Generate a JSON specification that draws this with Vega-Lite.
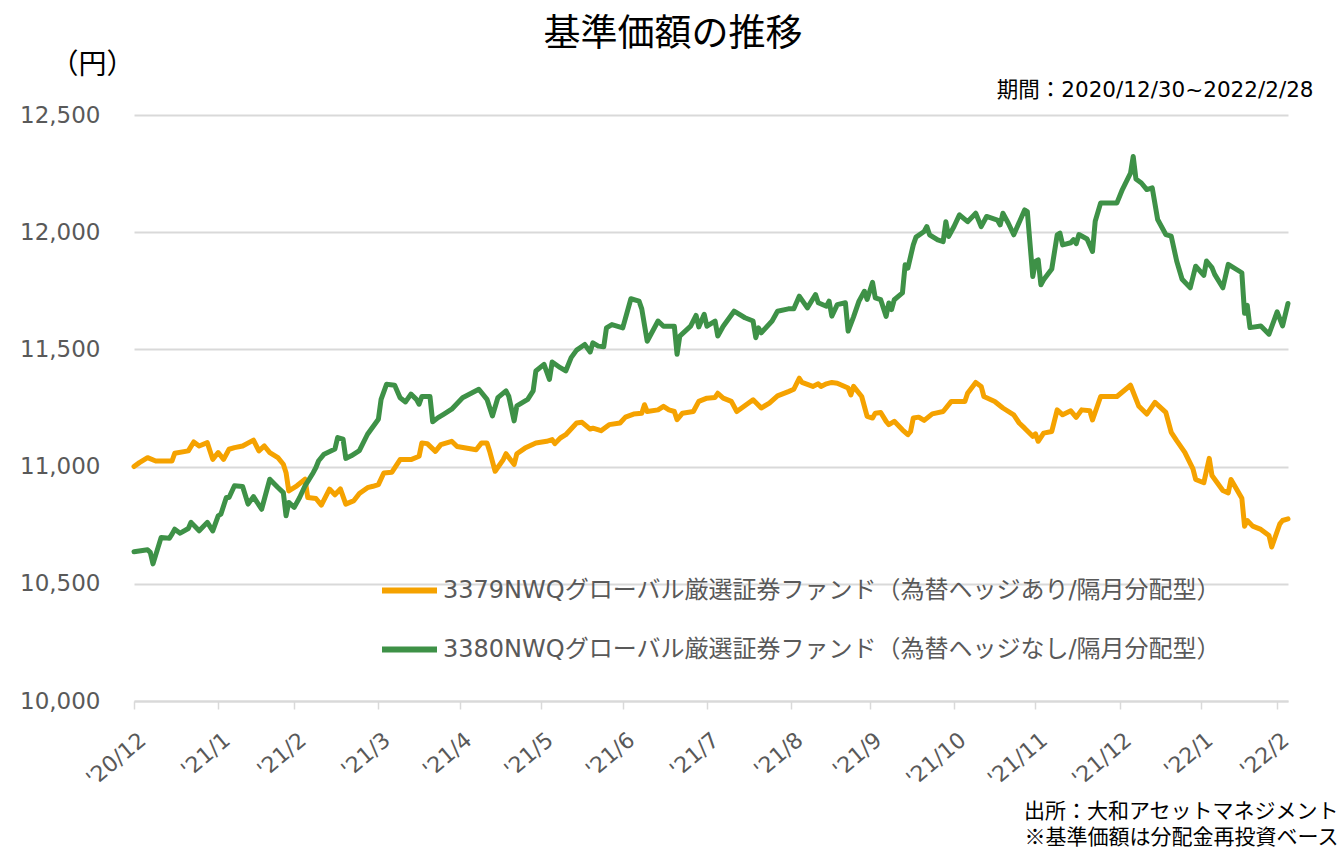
{
  "$schema": "https://vega.github.io/schema/vega-lite/v6.json",
  "autosize": {"type": "none"},
  "padding": {"left": 134, "top": 115, "right": 53, "bottom": 147},
  "width": 1154,
  "height": 586,
  "background": "white",
  "title": {"text": "基準価額の推移", "font": "Noto Sans CJK JP", "fontSize": 37, "fontWeight": "normal", "color": "#000000", "anchor": "middle", "frame": "group", "dx": -38, "dy": 13, "offset": 10},
  "datasets": {
    "hedged": [
      {"date": "2020-12-30", "nav": 11000}, {"date": "2021-01-01", "nav": 11017}, {"date": "2021-01-04", "nav": 11038}, {"date": "2021-01-07", "nav": 11024},
      {"date": "2021-01-13", "nav": 11024}, {"date": "2021-01-14", "nav": 11057}, {"date": "2021-01-19", "nav": 11067}, {"date": "2021-01-21", "nav": 11105},
      {"date": "2021-01-23", "nav": 11088}, {"date": "2021-01-26", "nav": 11102}, {"date": "2021-01-28", "nav": 11031}, {"date": "2021-01-30", "nav": 11060},
      {"date": "2021-02-01", "nav": 11031}, {"date": "2021-02-03", "nav": 11074}, {"date": "2021-02-05", "nav": 11081}, {"date": "2021-02-08", "nav": 11088},
      {"date": "2021-02-12", "nav": 11113}, {"date": "2021-02-14", "nav": 11067}, {"date": "2021-02-16", "nav": 11088}, {"date": "2021-02-18", "nav": 11060},
      {"date": "2021-02-21", "nav": 11038}, {"date": "2021-02-23", "nav": 11010}, {"date": "2021-02-24", "nav": 10974}, {"date": "2021-02-25", "nav": 10896},
      {"date": "2021-02-28", "nav": 10918}, {"date": "2021-03-03", "nav": 10946}, {"date": "2021-03-04", "nav": 10868}, {"date": "2021-03-07", "nav": 10864},
      {"date": "2021-03-09", "nav": 10836}, {"date": "2021-03-12", "nav": 10904}, {"date": "2021-03-14", "nav": 10880}, {"date": "2021-03-16", "nav": 10905},
      {"date": "2021-03-18", "nav": 10840}, {"date": "2021-03-21", "nav": 10855}, {"date": "2021-03-23", "nav": 10885}, {"date": "2021-03-26", "nav": 10910},
      {"date": "2021-03-28", "nav": 10916}, {"date": "2021-03-30", "nav": 10923}, {"date": "2021-04-01", "nav": 10973}, {"date": "2021-04-04", "nav": 10976},
      {"date": "2021-04-07", "nav": 11030}, {"date": "2021-04-11", "nav": 11030}, {"date": "2021-04-14", "nav": 11044}, {"date": "2021-04-15", "nav": 11101},
      {"date": "2021-04-17", "nav": 11098}, {"date": "2021-04-20", "nav": 11065}, {"date": "2021-04-22", "nav": 11094}, {"date": "2021-04-26", "nav": 11108},
      {"date": "2021-04-28", "nav": 11086}, {"date": "2021-05-05", "nav": 11072}, {"date": "2021-05-07", "nav": 11101}, {"date": "2021-05-09", "nav": 11101},
      {"date": "2021-05-10", "nav": 11065}, {"date": "2021-05-12", "nav": 10980}, {"date": "2021-05-15", "nav": 11030}, {"date": "2021-05-16", "nav": 11055},
      {"date": "2021-05-19", "nav": 11009}, {"date": "2021-05-20", "nav": 11055}, {"date": "2021-05-23", "nav": 11079}, {"date": "2021-05-27", "nav": 11101},
      {"date": "2021-05-31", "nav": 11108}, {"date": "2021-06-02", "nav": 11115}, {"date": "2021-06-03", "nav": 11098}, {"date": "2021-06-05", "nav": 11122},
      {"date": "2021-06-07", "nav": 11136}, {"date": "2021-06-11", "nav": 11186}, {"date": "2021-06-13", "nav": 11189}, {"date": "2021-06-16", "nav": 11160},
      {"date": "2021-06-17", "nav": 11164}, {"date": "2021-06-20", "nav": 11153}, {"date": "2021-06-23", "nav": 11179}, {"date": "2021-06-27", "nav": 11186},
      {"date": "2021-06-29", "nav": 11211}, {"date": "2021-07-02", "nav": 11224}, {"date": "2021-07-05", "nav": 11228}, {"date": "2021-07-06", "nav": 11264},
      {"date": "2021-07-07", "nav": 11235}, {"date": "2021-07-11", "nav": 11242}, {"date": "2021-07-13", "nav": 11257}, {"date": "2021-07-15", "nav": 11242},
      {"date": "2021-07-17", "nav": 11235}, {"date": "2021-07-18", "nav": 11200}, {"date": "2021-07-20", "nav": 11228}, {"date": "2021-07-24", "nav": 11235},
      {"date": "2021-07-26", "nav": 11278}, {"date": "2021-07-29", "nav": 11292}, {"date": "2021-08-01", "nav": 11295}, {"date": "2021-08-02", "nav": 11313},
      {"date": "2021-08-04", "nav": 11292}, {"date": "2021-08-07", "nav": 11278}, {"date": "2021-08-09", "nav": 11235}, {"date": "2021-08-15", "nav": 11285},
      {"date": "2021-08-18", "nav": 11250}, {"date": "2021-08-21", "nav": 11271}, {"date": "2021-08-24", "nav": 11302}, {"date": "2021-08-28", "nav": 11320},
      {"date": "2021-08-30", "nav": 11330}, {"date": "2021-09-01", "nav": 11377}, {"date": "2021-09-02", "nav": 11359}, {"date": "2021-09-06", "nav": 11342},
      {"date": "2021-09-08", "nav": 11353}, {"date": "2021-09-09", "nav": 11342}, {"date": "2021-09-11", "nav": 11353}, {"date": "2021-09-13", "nav": 11359},
      {"date": "2021-09-15", "nav": 11356}, {"date": "2021-09-19", "nav": 11335}, {"date": "2021-09-20", "nav": 11306}, {"date": "2021-09-21", "nav": 11342},
      {"date": "2021-09-24", "nav": 11299}, {"date": "2021-09-26", "nav": 11214}, {"date": "2021-09-28", "nav": 11207}, {"date": "2021-09-29", "nav": 11228},
      {"date": "2021-10-01", "nav": 11231}, {"date": "2021-10-03", "nav": 11193}, {"date": "2021-10-04", "nav": 11179}, {"date": "2021-10-06", "nav": 11193},
      {"date": "2021-10-09", "nav": 11157}, {"date": "2021-10-11", "nav": 11136}, {"date": "2021-10-12", "nav": 11150}, {"date": "2021-10-13", "nav": 11207},
      {"date": "2021-10-15", "nav": 11211}, {"date": "2021-10-17", "nav": 11197}, {"date": "2021-10-20", "nav": 11225}, {"date": "2021-10-24", "nav": 11235},
      {"date": "2021-10-27", "nav": 11278}, {"date": "2021-11-01", "nav": 11278}, {"date": "2021-11-02", "nav": 11313}, {"date": "2021-11-05", "nav": 11359},
      {"date": "2021-11-07", "nav": 11342}, {"date": "2021-11-08", "nav": 11299}, {"date": "2021-11-12", "nav": 11278}, {"date": "2021-11-15", "nav": 11250},
      {"date": "2021-11-19", "nav": 11221}, {"date": "2021-11-21", "nav": 11186}, {"date": "2021-11-23", "nav": 11164}, {"date": "2021-11-26", "nav": 11129},
      {"date": "2021-11-27", "nav": 11140}, {"date": "2021-11-28", "nav": 11108}, {"date": "2021-11-30", "nav": 11143}, {"date": "2021-12-03", "nav": 11150},
      {"date": "2021-12-05", "nav": 11242}, {"date": "2021-12-07", "nav": 11221}, {"date": "2021-12-10", "nav": 11238}, {"date": "2021-12-12", "nav": 11210},
      {"date": "2021-12-14", "nav": 11242}, {"date": "2021-12-17", "nav": 11238}, {"date": "2021-12-18", "nav": 11199}, {"date": "2021-12-21", "nav": 11299},
      {"date": "2021-12-27", "nav": 11299}, {"date": "2022-01-01", "nav": 11347}, {"date": "2022-01-04", "nav": 11259}, {"date": "2022-01-07", "nav": 11224},
      {"date": "2022-01-10", "nav": 11274}, {"date": "2022-01-14", "nav": 11231}, {"date": "2022-01-16", "nav": 11146}, {"date": "2022-01-18", "nav": 11111},
      {"date": "2022-01-21", "nav": 11061}, {"date": "2022-01-24", "nav": 10990}, {"date": "2022-01-25", "nav": 10945}, {"date": "2022-01-28", "nav": 10931},
      {"date": "2022-01-30", "nav": 11035}, {"date": "2022-01-31", "nav": 10962}, {"date": "2022-02-04", "nav": 10898}, {"date": "2022-02-06", "nav": 10888},
      {"date": "2022-02-07", "nav": 10945}, {"date": "2022-02-11", "nav": 10865}, {"date": "2022-02-12", "nav": 10746}, {"date": "2022-02-13", "nav": 10770},
      {"date": "2022-02-15", "nav": 10746}, {"date": "2022-02-18", "nav": 10732}, {"date": "2022-02-21", "nav": 10706}, {"date": "2022-02-22", "nav": 10657},
      {"date": "2022-02-25", "nav": 10756}, {"date": "2022-02-26", "nav": 10770}, {"date": "2022-02-28", "nav": 10777}
    ],
    "unhedged": [
      {"date": "2020-12-30", "nav": 10637}, {"date": "2021-01-04", "nav": 10645}, {"date": "2021-01-05", "nav": 10634}, {"date": "2021-01-06", "nav": 10585},
      {"date": "2021-01-09", "nav": 10698}, {"date": "2021-01-12", "nav": 10694}, {"date": "2021-01-13", "nav": 10712}, {"date": "2021-01-14", "nav": 10733},
      {"date": "2021-01-16", "nav": 10716}, {"date": "2021-01-19", "nav": 10736}, {"date": "2021-01-20", "nav": 10762}, {"date": "2021-01-23", "nav": 10726},
      {"date": "2021-01-26", "nav": 10762}, {"date": "2021-01-28", "nav": 10726}, {"date": "2021-01-30", "nav": 10790}, {"date": "2021-01-31", "nav": 10797},
      {"date": "2021-02-02", "nav": 10868}, {"date": "2021-02-03", "nav": 10868}, {"date": "2021-02-05", "nav": 10918}, {"date": "2021-02-08", "nav": 10915},
      {"date": "2021-02-10", "nav": 10840}, {"date": "2021-02-12", "nav": 10872}, {"date": "2021-02-15", "nav": 10818}, {"date": "2021-02-18", "nav": 10946},
      {"date": "2021-02-21", "nav": 10911}, {"date": "2021-02-23", "nav": 10889}, {"date": "2021-02-24", "nav": 10790}, {"date": "2021-02-25", "nav": 10847},
      {"date": "2021-02-27", "nav": 10826}, {"date": "2021-03-01", "nav": 10868}, {"date": "2021-03-03", "nav": 10918}, {"date": "2021-03-06", "nav": 10974},
      {"date": "2021-03-07", "nav": 10996}, {"date": "2021-03-08", "nav": 11025}, {"date": "2021-03-10", "nav": 11053}, {"date": "2021-03-14", "nav": 11075},
      {"date": "2021-03-15", "nav": 11124}, {"date": "2021-03-17", "nav": 11117}, {"date": "2021-03-18", "nav": 11035}, {"date": "2021-03-20", "nav": 11046},
      {"date": "2021-03-23", "nav": 11068}, {"date": "2021-03-26", "nav": 11138}, {"date": "2021-03-30", "nav": 11202}, {"date": "2021-03-31", "nav": 11287},
      {"date": "2021-04-02", "nav": 11351}, {"date": "2021-04-05", "nav": 11347}, {"date": "2021-04-07", "nav": 11294}, {"date": "2021-04-09", "nav": 11276},
      {"date": "2021-04-11", "nav": 11309}, {"date": "2021-04-13", "nav": 11287}, {"date": "2021-04-14", "nav": 11266}, {"date": "2021-04-15", "nav": 11299},
      {"date": "2021-04-18", "nav": 11299}, {"date": "2021-04-19", "nav": 11191}, {"date": "2021-04-21", "nav": 11209}, {"date": "2021-04-23", "nav": 11223},
      {"date": "2021-04-26", "nav": 11245}, {"date": "2021-04-30", "nav": 11294}, {"date": "2021-05-06", "nav": 11330}, {"date": "2021-05-09", "nav": 11287},
      {"date": "2021-05-11", "nav": 11216}, {"date": "2021-05-13", "nav": 11294}, {"date": "2021-05-16", "nav": 11323}, {"date": "2021-05-17", "nav": 11301},
      {"date": "2021-05-19", "nav": 11195}, {"date": "2021-05-20", "nav": 11259}, {"date": "2021-05-24", "nav": 11287}, {"date": "2021-05-26", "nav": 11323},
      {"date": "2021-05-27", "nav": 11408}, {"date": "2021-05-30", "nav": 11436}, {"date": "2021-06-01", "nav": 11372}, {"date": "2021-06-02", "nav": 11446},
      {"date": "2021-06-05", "nav": 11422}, {"date": "2021-06-07", "nav": 11408}, {"date": "2021-06-09", "nav": 11465}, {"date": "2021-06-11", "nav": 11497},
      {"date": "2021-06-14", "nav": 11521}, {"date": "2021-06-16", "nav": 11489}, {"date": "2021-06-17", "nav": 11528}, {"date": "2021-06-19", "nav": 11514},
      {"date": "2021-06-21", "nav": 11511}, {"date": "2021-06-22", "nav": 11592}, {"date": "2021-06-24", "nav": 11606}, {"date": "2021-06-28", "nav": 11592},
      {"date": "2021-07-01", "nav": 11716}, {"date": "2021-07-04", "nav": 11706}, {"date": "2021-07-05", "nav": 11673}, {"date": "2021-07-07", "nav": 11535},
      {"date": "2021-07-11", "nav": 11621}, {"date": "2021-07-13", "nav": 11599}, {"date": "2021-07-17", "nav": 11599}, {"date": "2021-07-18", "nav": 11479},
      {"date": "2021-07-19", "nav": 11557}, {"date": "2021-07-23", "nav": 11599}, {"date": "2021-07-25", "nav": 11645}, {"date": "2021-07-26", "nav": 11596},
      {"date": "2021-07-28", "nav": 11650}, {"date": "2021-07-29", "nav": 11599}, {"date": "2021-08-01", "nav": 11621}, {"date": "2021-08-02", "nav": 11557},
      {"date": "2021-08-04", "nav": 11599}, {"date": "2021-08-08", "nav": 11663}, {"date": "2021-08-12", "nav": 11635}, {"date": "2021-08-15", "nav": 11621},
      {"date": "2021-08-16", "nav": 11550}, {"date": "2021-08-17", "nav": 11592}, {"date": "2021-08-18", "nav": 11571}, {"date": "2021-08-22", "nav": 11621},
      {"date": "2021-08-24", "nav": 11663}, {"date": "2021-08-28", "nav": 11673}, {"date": "2021-08-30", "nav": 11673}, {"date": "2021-09-01", "nav": 11727},
      {"date": "2021-09-04", "nav": 11677}, {"date": "2021-09-07", "nav": 11734}, {"date": "2021-09-08", "nav": 11699}, {"date": "2021-09-11", "nav": 11684},
      {"date": "2021-09-12", "nav": 11706}, {"date": "2021-09-13", "nav": 11642}, {"date": "2021-09-15", "nav": 11691}, {"date": "2021-09-18", "nav": 11699},
      {"date": "2021-09-19", "nav": 11578}, {"date": "2021-09-21", "nav": 11639}, {"date": "2021-09-23", "nav": 11706}, {"date": "2021-09-25", "nav": 11748},
      {"date": "2021-09-26", "nav": 11713}, {"date": "2021-09-28", "nav": 11786}, {"date": "2021-09-29", "nav": 11720}, {"date": "2021-10-01", "nav": 11712},
      {"date": "2021-10-03", "nav": 11641}, {"date": "2021-10-04", "nav": 11698}, {"date": "2021-10-05", "nav": 11670}, {"date": "2021-10-06", "nav": 11712},
      {"date": "2021-10-09", "nav": 11741}, {"date": "2021-10-10", "nav": 11861}, {"date": "2021-10-11", "nav": 11847}, {"date": "2021-10-13", "nav": 11946},
      {"date": "2021-10-14", "nav": 11979}, {"date": "2021-10-17", "nav": 12003}, {"date": "2021-10-18", "nav": 12024}, {"date": "2021-10-19", "nav": 11989},
      {"date": "2021-10-22", "nav": 11967}, {"date": "2021-10-24", "nav": 11960}, {"date": "2021-10-25", "nav": 12045}, {"date": "2021-10-26", "nav": 11982},
      {"date": "2021-10-28", "nav": 12024}, {"date": "2021-10-30", "nav": 12074}, {"date": "2021-11-02", "nav": 12045}, {"date": "2021-11-05", "nav": 12081},
      {"date": "2021-11-07", "nav": 12024}, {"date": "2021-11-09", "nav": 12067}, {"date": "2021-11-13", "nav": 12052}, {"date": "2021-11-14", "nav": 12031},
      {"date": "2021-11-15", "nav": 12081}, {"date": "2021-11-17", "nav": 12038}, {"date": "2021-11-19", "nav": 11989}, {"date": "2021-11-23", "nav": 12095},
      {"date": "2021-11-24", "nav": 12088}, {"date": "2021-11-26", "nav": 11811}, {"date": "2021-11-27", "nav": 11875}, {"date": "2021-11-28", "nav": 11882},
      {"date": "2021-11-29", "nav": 11776}, {"date": "2021-11-30", "nav": 11797}, {"date": "2021-12-03", "nav": 11843}, {"date": "2021-12-05", "nav": 11989},
      {"date": "2021-12-06", "nav": 11996}, {"date": "2021-12-07", "nav": 11946}, {"date": "2021-12-10", "nav": 11955}, {"date": "2021-12-11", "nav": 11968},
      {"date": "2021-12-12", "nav": 11951}, {"date": "2021-12-13", "nav": 11990}, {"date": "2021-12-16", "nav": 11971}, {"date": "2021-12-18", "nav": 11918},
      {"date": "2021-12-19", "nav": 12047}, {"date": "2021-12-21", "nav": 12125}, {"date": "2021-12-27", "nav": 12125}, {"date": "2021-12-29", "nav": 12182},
      {"date": "2022-01-01", "nav": 12252}, {"date": "2022-01-02", "nav": 12323}, {"date": "2022-01-03", "nav": 12227}, {"date": "2022-01-05", "nav": 12210},
      {"date": "2022-01-07", "nav": 12182}, {"date": "2022-01-09", "nav": 12189}, {"date": "2022-01-11", "nav": 12054}, {"date": "2022-01-14", "nav": 11990},
      {"date": "2022-01-16", "nav": 11983}, {"date": "2022-01-18", "nav": 11877}, {"date": "2022-01-20", "nav": 11799}, {"date": "2022-01-23", "nav": 11763},
      {"date": "2022-01-25", "nav": 11855}, {"date": "2022-01-28", "nav": 11816}, {"date": "2022-01-29", "nav": 11877}, {"date": "2022-01-31", "nav": 11849},
      {"date": "2022-02-01", "nav": 11820}, {"date": "2022-02-04", "nav": 11763}, {"date": "2022-02-06", "nav": 11863}, {"date": "2022-02-11", "nav": 11827},
      {"date": "2022-02-12", "nav": 11654}, {"date": "2022-02-13", "nav": 11688}, {"date": "2022-02-14", "nav": 11593}, {"date": "2022-02-18", "nav": 11600},
      {"date": "2022-02-21", "nav": 11565}, {"date": "2022-02-24", "nav": 11660}, {"date": "2022-02-26", "nav": 11600}, {"date": "2022-02-28", "nav": 11696}
    ]
  },
  "encoding": {
    "x": {
      "field": "date", "type": "temporal",
      "scale": {"type": "utc", "domain": [{"year": 2020, "month": 12, "date": 30, "utc": true}, {"year": 2022, "month": 2, "date": 28, "utc": true}], "nice": false},
      "axis": {
        "values": [
          {"year": 2020, "month": 12, "date": 30, "utc": true}, {"year": 2021, "month": 1, "date": 30, "utc": true},
          {"year": 2021, "month": 2, "date": 27, "utc": true}, {"year": 2021, "month": 3, "date": 30, "utc": true},
          {"year": 2021, "month": 4, "date": 29, "utc": true}, {"year": 2021, "month": 5, "date": 29, "utc": true},
          {"year": 2021, "month": 6, "date": 28, "utc": true}, {"year": 2021, "month": 7, "date": 29, "utc": true},
          {"year": 2021, "month": 8, "date": 29, "utc": true}, {"year": 2021, "month": 9, "date": 27, "utc": true},
          {"year": 2021, "month": 10, "date": 28, "utc": true}, {"year": 2021, "month": 11, "date": 27, "utc": true},
          {"year": 2021, "month": 12, "date": 28, "utc": true}, {"year": 2022, "month": 1, "date": 27, "utc": true},
          {"year": 2022, "month": 2, "date": 24, "utc": true}
        ],
        "labelExpr": "\"'\" + utcFormat(datum.value, '%y/%-m')",
        "labelAngle": -40, "labelAlign": "right", "labelBaseline": "top",
        "labelFont": "DejaVu Sans", "labelFontSize": 22, "labelColor": "#595959",
        "labelPadding": 20, "labelOffset": 2, "labelOverlap": false, "labelFlush": false, "labelBound": false,
        "tickSize": 8, "tickColor": "#d9d9d9", "tickWidth": 1.5,
        "domainColor": "#d9d9d9", "domainWidth": 2, "grid": false,
        "title": ["出所：大和アセットマネジメント", "※基準価額は分配金再投資ベース"],
        "titleX": 1204, "titleY": 99, "titleAlign": "right", "titleBaseline": "top", "titleAngle": 0,
        "titleFont": "Noto Sans CJK JP", "titleFontSize": 21, "titleFontWeight": "normal", "titleColor": "#000000", "titleLineHeight": 26
      }
    },
    "y": {
      "field": "nav", "type": "quantitative",
      "scale": {"domain": [10000, 12500], "nice": false, "zero": false},
      "axis": {
        "values": [10000, 10500, 11000, 11500, 12000, 12500], "format": ",d",
        "labelFont": "DejaVu Sans", "labelFontSize": 23, "labelColor": "#595959", "labelPadding": 34,
        "ticks": false, "domain": false, "grid": true, "gridColor": "#d9d9d9", "gridWidth": 2,
        "title": "（円）", "titleAngle": 0, "titleX": -42, "titleY": -50, "titleAlign": "center", "titleBaseline": "middle",
        "titleFont": "Noto Sans CJK JP", "titleFontSize": 28, "titleFontWeight": "normal", "titleColor": "#000000"
      }
    }
  },
  "layer": [
    {
      "data": {"name": "hedged"},
      "mark": {"type": "line", "strokeWidth": 5, "strokeJoin": "round", "strokeCap": "round"},
      "encoding": {
        "color": {"datum": "3379NWQグローバル厳選証券ファンド（為替ヘッジあり/隔月分配型）", "type": "nominal",
          "scale": {"domain": ["3379NWQグローバル厳選証券ファンド（為替ヘッジあり/隔月分配型）", "3380NWQグローバル厳選証券ファンド（為替ヘッジなし/隔月分配型）"], "range": ["#F5A200", "#3E9147"]}}
      }
    },
    {
      "data": {"name": "unhedged"},
      "mark": {"type": "line", "strokeWidth": 5, "strokeJoin": "round", "strokeCap": "round"},
      "encoding": {
        "y": {
          "field": "nav", "type": "quantitative",
          "scale": {"domain": [10000, 12500], "nice": false, "zero": false},
          "axis": {
            "orient": "right", "labels": false, "ticks": false, "domain": false, "grid": false,
            "title": "期間：2020/12/30~2022/2/28", "titleAngle": 0, "titleX": 25, "titleY": -25,
            "titleAlign": "right", "titleBaseline": "middle",
            "titleFont": "DejaVu Sans, Noto Sans CJK JP", "titleFontSize": 21.5, "titleFontWeight": "normal", "titleColor": "#000000"
          }
        },
        "color": {"datum": "3380NWQグローバル厳選証券ファンド（為替ヘッジなし/隔月分配型）", "type": "nominal"}
      }
    }
  ],
  "resolve": {"axis": {"y": "independent"}},
  "config": {
    "view": {"stroke": null},
    "legend": {
      "orient": "none", "legendX": 245, "legendY": 445, "direction": "vertical", "title": null,
      "symbolType": "stroke", "symbolSize": 3025, "symbolStrokeWidth": 6,
      "labelFont": "DejaVu Sans, Noto Sans CJK JP", "labelFontSize": 24, "labelColor": "#595959",
      "labelLimit": 0, "labelOffset": 3, "rowPadding": 16, "padding": 0
    }
  }
}
